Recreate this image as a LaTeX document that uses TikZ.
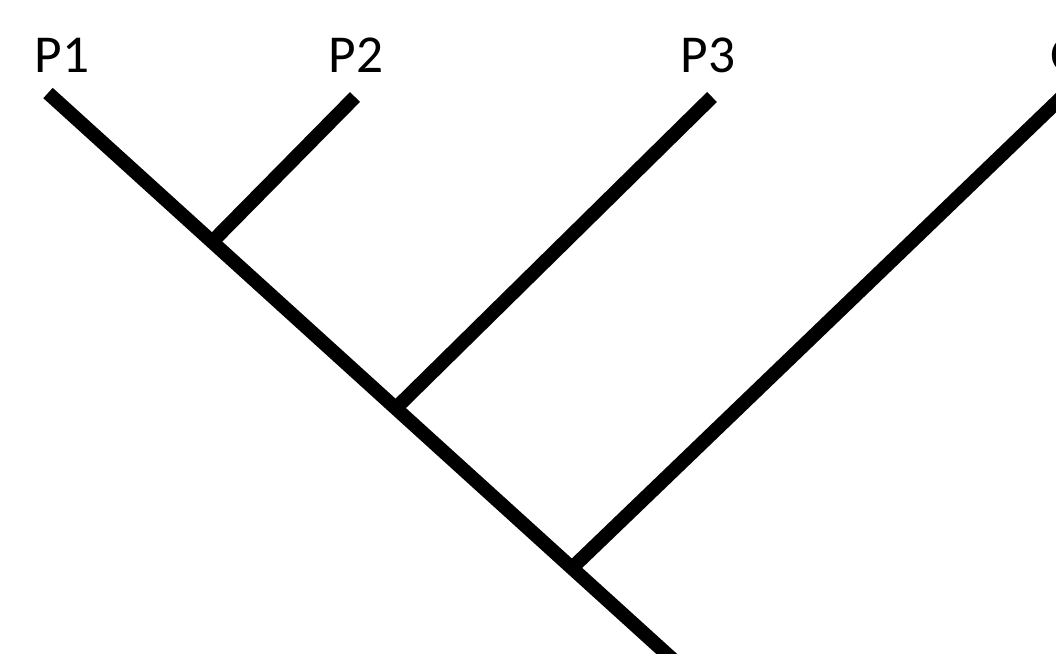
\documentclass[tikz,border=0pt]{standalone}
\usepackage{fontspec}
\setmainfont{Carlito}
\begin{document}
\begin{tikzpicture}[x=0.75pt, y=-0.75pt,
    branch/.style = {line width=10.5pt},
    taxon/.style = {font=\fontsize{40}{48}\selectfont, inner sep=0pt, anchor=base}]
    \clip (0,0) rectangle (1056,653);
    \node[taxon] (1) at (62,72) {P1};
    \node[taxon] (2) at (356,72) {P2};
    \node[taxon] (3) at (708,72) {P3};
    \node[taxon] (4) at (1068,72) {O};
    \coordinate (t1) at (48,93);
    \coordinate (t2) at (355,97);
    \coordinate (t3) at (712,97);
    \coordinate (t4) at (1064,95);
    \coordinate (j2) at (212,242);
    \coordinate (j3) at (396,408);
    \coordinate (j4) at (572,568);
    \coordinate (r) at (680,666);
    \draw[branch] (t1) -- (r);
    \draw[branch] (j2) -- (t2);
    \draw[branch] (j3) -- (t3);
    \draw[branch] (j4) -- (t4);
\end{tikzpicture}
\end{document}
